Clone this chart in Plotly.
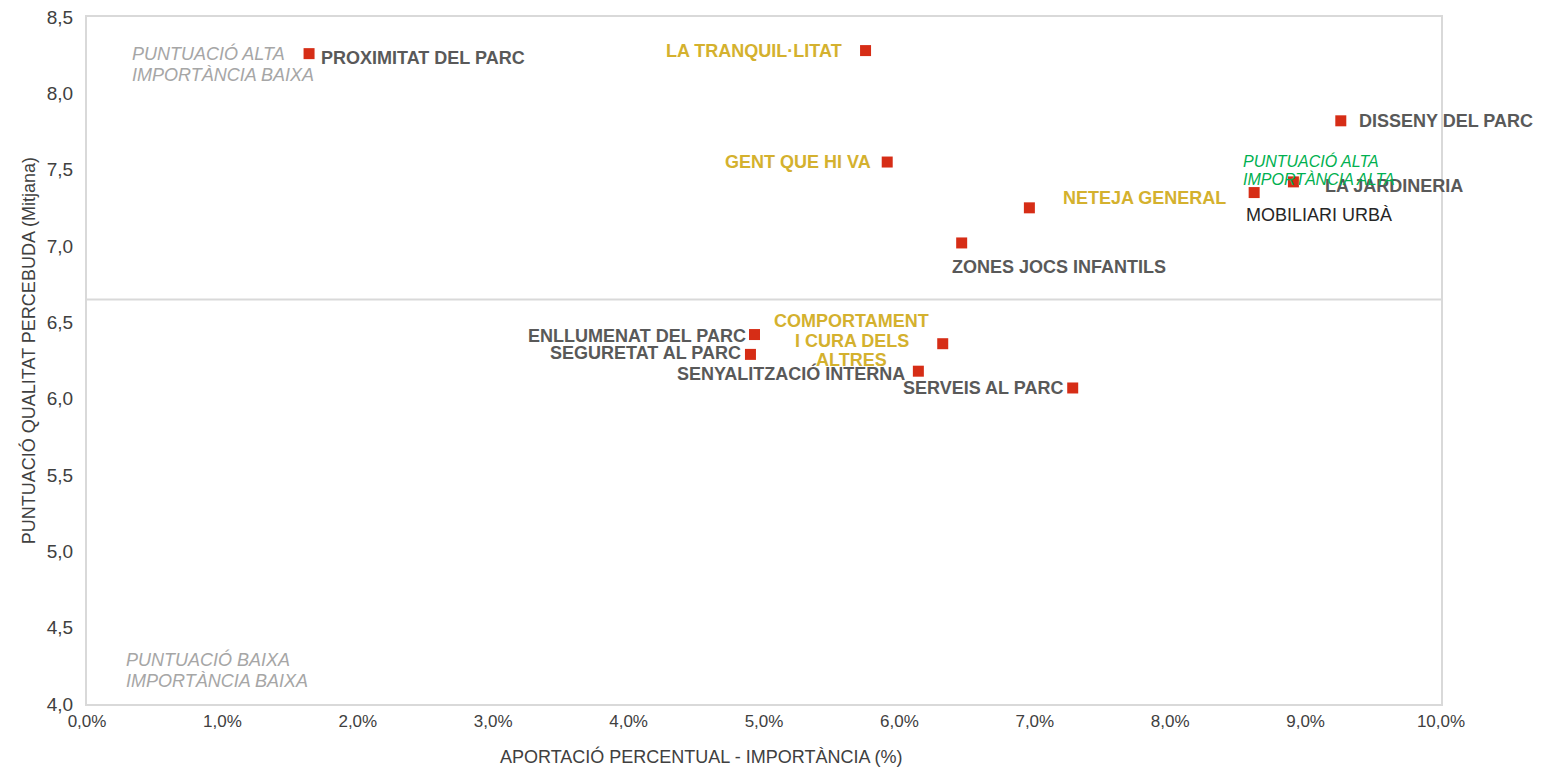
import plotly.graph_objects as go

# ---- data ----
items = [
    "PROXIMITAT DEL PARC", "LA TRANQUIL·LITAT", "DISSENY DEL PARC", "GENT QUE HI VA",
    "LA JARDINERIA", "MOBILIARI URBÀ", "NETEJA GENERAL", "ZONES JOCS INFANTILS",
    "ENLLUMENAT DEL PARC", "SEGURETAT AL PARC", "COMPORTAMENT<br>I CURA DELS<br>ALTRES",
    "SENYALITZACIÓ INTERNA", "SERVEIS AL PARC",
]
importance_pct = [1.64, 5.75, 9.26, 5.91, 8.91, 8.62, 6.96, 6.46, 4.93, 4.90, 6.32, 6.14, 7.28]
quality_score = [8.26, 8.28, 7.82, 7.55, 7.42, 7.35, 7.25, 7.02, 6.42, 6.29, 6.36, 6.18, 6.07]
mean_quality = 6.65
x_ticks = [0, 1, 2, 3, 4, 5, 6, 7, 8, 9, 10]
y_ticks = [4.0, 4.5, 5.0, 5.5, 6.0, 6.5, 7.0, 7.5, 8.0, 8.5]
x_ticktext = [f"{v:.1f}%".replace(".", ",") for v in x_ticks]
x_title = "APORTACIÓ PERCENTUAL - IMPORTÀNCIA (%)"
y_title = "PUNTUACIÓ QUALITAT PERCEBUDA (Mitjana)"

# ---- label styling (positions relative to each point, in px) ----
GRAY = "#595959"
GOLD = "#D4B12E"
DARK = "#262626"
AXIS_TXT = "#404040"
label_style = [
    # (xanchor, xshift, yshift, color, bold)
    ("left", 10, -4, GRAY, True),
    ("right", -22, 0, GOLD, True),
    ("left", 16, 0, GRAY, True),
    ("right", -14, 0, GOLD, True),
    ("left", 30, -4, GRAY, True),
    ("left", -10, -22, DARK, False),
    ("left", 32, 10, GOLD, True),
    ("left", -12, -24, GRAY, True),
    ("right", -7, -1, GRAY, True),
    ("right", -7, 1, GRAY, True),
    ("center", -91, 3, GOLD, True),
    ("right", -11, -2, GRAY, True),
    ("right", -8, 0, GRAY, True),
]
LINE_GAP = 19.5

FONT = "Liberation Sans, Arial, sans-serif"

fig = go.Figure()
fig.add_trace(go.Scatter(
    x=importance_pct, y=quality_score, mode="markers",
    marker=dict(symbol="square", size=11, color="#D62D16"),
    hoverinfo="text", text=[n.replace("<br>", " ") for n in items], showlegend=False,
))

annotations = []
for name, xv, yv, st in zip(items, importance_pct, quality_score, label_style):
    xa, xs, ys, col, bold = st
    parts = name.split("<br>")
    n = len(parts)
    for i, p in enumerate(parts):
        off = ((n - 1) / 2 - i) * LINE_GAP
        annotations.append(dict(
            x=xv, y=yv, xref="x", yref="y", text=f"<b>{p}</b>" if bold else p,
            showarrow=False, xanchor=xa, yanchor="middle", xshift=xs, yshift=ys + off,
            font=dict(family=FONT, size=18, color=col),
        ))

quad = [
    (0.32, 8.19, "PUNTUACIÓ ALTA|IMPORTÀNCIA BAIXA", "#A6A6A6", 18, 21),
    (0.27, 4.22, "PUNTUACIÓ BAIXA|IMPORTÀNCIA BAIXA", "#A6A6A6", 18, 21),
    (8.52, 7.50, "PUNTUACIÓ ALTA|IMPORTÀNCIA ALTA", "#00B050", 16, 18),
]
for xq, yq, t, c, s, gap in quad:
    lines = t.split("|")
    for i, ln in enumerate(lines):
        off = ((len(lines) - 1) / 2 - i) * gap
        annotations.append(dict(
            x=xq, y=yq, xref="x", yref="y", text=f"<i>{ln}</i>", showarrow=False,
            xanchor="left", yanchor="middle", yshift=off,
            font=dict(family=FONT, size=s, color=c),
        ))

# axis titles (placed as in the reference, slightly off-centre)
annotations.append(dict(
    x=0.4535, y=-0.077, xref="paper", yref="paper", text=x_title, showarrow=False,
    xanchor="center", yanchor="middle", font=dict(family=FONT, size=18, color=AXIS_TXT),
))
annotations.append(dict(
    x=-0.0436, y=0.515, xref="paper", yref="paper", text=y_title, showarrow=False,
    textangle=-90, xanchor="center", yanchor="middle",
    font=dict(family=FONT, size=18, color=AXIS_TXT),
))

fig.add_shape(type="line", xref="paper", yref="y", x0=0, x1=1, y0=mean_quality, y1=mean_quality,
              line=dict(color="#D9D9D9", width=2))

# page body has an 8px default margin, so the figure is sized/offset to compensate
fig.update_layout(
    width=1544, height=759,
    margin=dict(l=79, r=111, t=9, b=63),
    paper_bgcolor="white", plot_bgcolor="white",
    separators=",.",
    annotations=annotations,
    xaxis=dict(
        range=[0, 10], tickvals=x_ticks, ticktext=x_ticktext, automargin=False,
        showgrid=False, zeroline=False, showline=True, mirror=True,
        linecolor="#D9D9D9", linewidth=2, ticks="",
        tickfont=dict(family=FONT, size=17, color=AXIS_TXT),
        ticklabelstandoff=1, ticklabeloverflow="allow",
    ),
    yaxis=dict(
        range=[4, 8.5], tickvals=y_ticks, tickformat=".1f", automargin=False,
        showgrid=False, zeroline=False, showline=True, mirror=True,
        linecolor="#D9D9D9", linewidth=2, ticks="",
        tickfont=dict(family=FONT, size=19, color=AXIS_TXT),
        ticklabelstandoff=8, ticklabeloverflow="allow",
    ),
)

fig.write_html("out.html")
